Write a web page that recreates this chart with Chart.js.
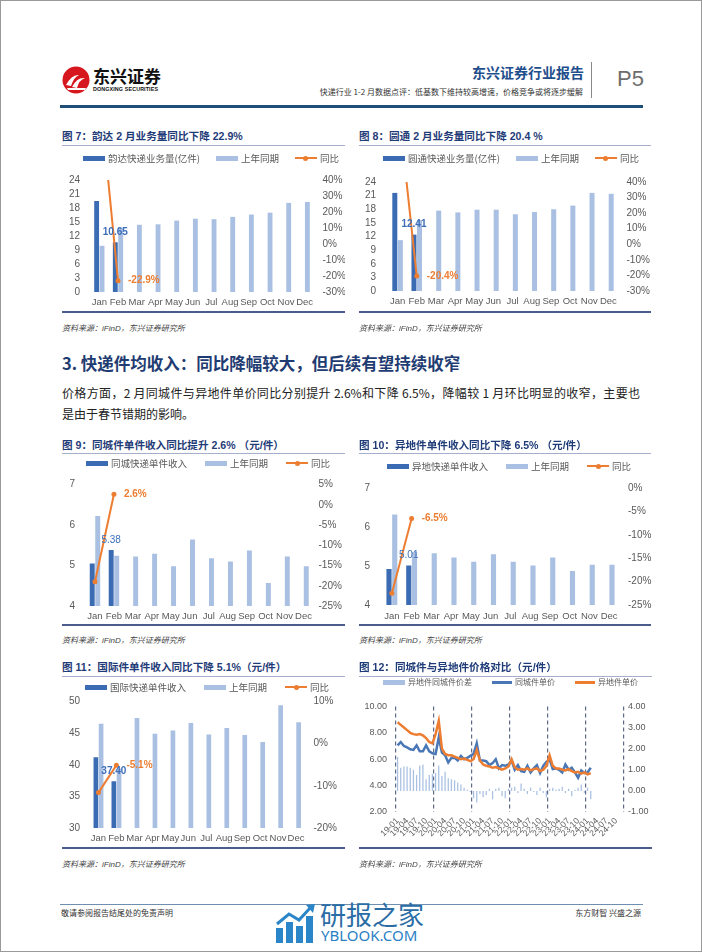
<!DOCTYPE html>
<html lang="zh-CN">
<head>
<meta charset="utf-8">
<title>快递行业 1-2 月数据点评</title>
<script src="https://cdn.jsdelivr.net/npm/chart.js@4.4.1/dist/chart.umd.min.js"></script>
<style>
  html, body { margin: 0; padding: 0; }
  body { width: 702px; height: 952px; position: relative; background: #fff; overflow: hidden;
         font-family: "Liberation Sans", "Noto Sans CJK SC", sans-serif; color: #333; }
  .frame { position: absolute; left: 0; top: 0; width: 702px; height: 952px; box-sizing: border-box;
           border: 1px solid #9a9a9a; pointer-events: none; }
  .abs { position: absolute; white-space: nowrap; }
  .ctitle { font-size: 10.6px; font-weight: bold; color: #1f3c78; line-height: 13px; }
  .tline { position: absolute; height: 1px; background: #a7adcc; }
  .bline { position: absolute; height: 2px; background: #4d5b8c; }
  .src { font-size: 8px; font-style: italic; color: #444; line-height: 10px; }
  .legend { position: absolute; display: flex; align-items: center; font-size: 9.5px; color: #595959;
            line-height: 12px; font-family: "Noto Sans CJK SC", sans-serif; white-space: nowrap; }
  .lg { display: flex; align-items: center; }
  .ic { display: inline-block; width: 22px; height: 5px; margin-right: 3px; position: relative; }
  .ic.line { height: 2px; }
  .ic.thick { height: 3px; width: 20px; }
  .ic.line i { position: absolute; left: 8.5px; top: -1.5px; width: 5px; height: 5px; border-radius: 50%; background: inherit; }
  canvas { position: absolute; }
</style>
</head>
<body>
<div id="page"></div>

<!-- header -->
<svg class="abs" style="left:62px;top:66px" width="28" height="28" viewBox="0 0 28 28">
  <circle cx="14" cy="14" r="13.5" fill="#d7171e"/>
  <path d="M4 19 Q10 8 17 9 Q12 11 9 20 Z" fill="#fff"/>
  <path d="M10 21 Q15 11 23 12 Q17 14 15 22 Z" fill="#fff"/>
  <path d="M5 22 L24 22 L23 24 L6 24 Z" fill="#fff"/>
</svg>
<div class="abs" style="left:93px;top:65px;font:bold 17px 'Noto Sans CJK SC';color:#111;line-height:21px">东兴证券</div>
<div class="abs" style="left:93px;top:86px;font:bold 5.4px 'Liberation Sans';color:#111;letter-spacing:0.1px">DONGXING SECURITIES</div>
<div class="abs" style="right:118px;top:63px;font:bold 14px 'Noto Sans CJK SC';color:#1f4e8c;line-height:18px">东兴证券行业报告</div>
<div class="abs" style="right:119px;top:87px;font:8px 'Noto Sans CJK SC';color:#333;line-height:10px">快递行业 1-2 月数据点评：低基数下维持较高增速，价格竞争或将逐步缓解</div>
<div class="abs" style="left:591px;top:62px;width:1px;height:36px;background:#8a8a8a"></div>
<div class="abs" style="left:617px;top:66px;font:22px 'Liberation Sans';color:#6e6e6e;line-height:26px">P5</div>
<div class="abs" style="left:60px;top:105px;width:583px;height:2.5px;background:#1f4e79"></div>

<!-- section text -->
<div class="abs" style="left:62px;top:352px;font:bold 16.5px 'Noto Sans CJK SC';color:#1f3c72;line-height:22px">3. 快递件均收入：同比降幅较大，但后续有望持续收窄</div>
<div class="abs" style="left:62px;top:385px;width:578px;font:12px 'Noto Sans CJK SC';color:#222;line-height:16px;white-space:normal;text-align:justify;text-align-last:justify">价格方面，2 月同城件与异地件单价同比分别提升 2.6%和下降 6.5%，降幅较 1 月环比明显的收窄，主要也</div>
<div class="abs" style="left:62px;top:406px;font:12px 'Noto Sans CJK SC';color:#222;line-height:16px">是由于春节错期的影响。</div>

<!-- footer -->
<div class="abs" style="left:60px;top:904px;width:583px;height:1px;background:#6f8fb0"></div>
<div class="abs" style="left:61px;top:908px;font:8px 'Noto Sans CJK SC';color:#333;line-height:10px">敬请参阅报告结尾处的免责声明</div>
<div class="abs" style="right:61px;top:908px;font:8px 'Noto Sans CJK SC';color:#333;line-height:10px">东方财智 兴盛之源</div>
<svg class="abs" style="left:275px;top:902px" width="42" height="42" viewBox="0 0 42 42">
  <rect x="1" y="26" width="7" height="15" fill="#2b86c9"/>
  <rect x="11" y="20" width="7" height="21" fill="#2b86c9"/>
  <rect x="21" y="24" width="7" height="17" fill="#2b86c9"/>
  <rect x="31" y="14" width="7" height="27" fill="#2b86c9"/>
  <path d="M2 22 L14 12 L24 18 L36 5" stroke="#2b86c9" stroke-width="3" fill="none"/>
  <path d="M31 3 L40 2 L38 11 Z" fill="#2b86c9"/>
</svg>
<div class="abs" style="left:320px;top:899px;font:26px 'Noto Sans CJK SC';color:#2a6da6;line-height:30px">研报之家</div>
<div class="abs" style="left:321px;top:927px;font:15px 'Noto Sans';color:#2b7fc4;line-height:16px">YBLOOK.COM</div>

<div class="frame"></div>

<script>
// ---------- data ----------
const months = ["Jan", "Feb", "Mar", "Apr", "May", "Jun", "Jul", "Aug", "Sep", "Oct", "Nov", "Dec"];

// 图7 韵达业务量(亿件)
const ydNames = ["韵达快递业务量(亿件)", "上年同期", "同比"];
const ydVolume = [19.5, 10.65, null, null, null, null, null, null, null, null, null, null];
const ydLastYear = [9.9, 13.8, 14.4, 14.5, 15.3, 15.7, 15.6, 16.1, 16.6, 17.0, 19.1, 19.3];
const ydYoy = [97.0, -22.9, null, null, null, null, null, null, null, null, null, null];

// 图8 圆通业务量(亿件)
const ytNames = ["圆通快递业务量(亿件)", "上年同期", "同比"];
const ytVolume = [21.6, 12.41, null, null, null, null, null, null, null, null, null, null];
const ytLastYear = [11.2, 15.6, 17.7, 17.3, 17.9, 17.9, 16.9, 17.4, 18.0, 18.8, 21.6, 21.4];
const ytYoy = [93.0, -20.4, null, null, null, null, null, null, null, null, null, null];

// 图9 同城件单件收入(元/件)
const tcNames = ["同城快递单件收入", "上年同期", "同比"];
const tcPrice = [5.05, 5.38, null, null, null, null, null, null, null, null, null, null];
const tcLastYear = [6.22, 5.24, 5.22, 5.29, 4.98, 5.64, 5.18, 5.10, 5.37, 4.57, 5.22, 4.98];
const tcYoy = [-19.0, 2.6, null, null, null, null, null, null, null, null, null, null];

// 图10 异地件单件收入(元/件)
const ydiNames = ["异地快递单件收入", "上年同期", "同比"];
const ydiPrice = [4.92, 5.01, null, null, null, null, null, null, null, null, null, null];
const ydiLastYear = [6.32, 5.36, 5.33, 5.22, 5.11, 5.30, 5.11, 5.01, 5.22, 4.87, 5.03, 5.03];
const ydiYoy = [-22.5, -6.5, null, null, null, null, null, null, null, null, null, null];

// 图11 国际件单件收入(元/件)
const gjNames = ["国际快递单件收入", "上年同期", "同比"];
const gjPrice = [41.2, 37.40, null, null, null, null, null, null, null, null, null, null];
const gjLastYear = [46.5, 39.4, 47.4, 44.9, 45.4, 46.6, 44.8, 45.8, 44.7, 43.6, 49.4, 46.7];
const gjYoy = [-11.6, -5.1, null, null, null, null, null, null, null, null, null, null];

// 图12 同城件与异地件价格对比(元/件)
const cmpNames = ["异地件同城件价差", "同城件单价", "异地件单价"];
const cmpMonths = [
  "19-01", "19-02", "19-03", "19-04", "19-05", "19-06", "19-07", "19-08", "19-09", "19-10", "19-11", "19-12",
  "20-01", "20-02", "20-03", "20-04", "20-05", "20-06", "20-07", "20-08", "20-09", "20-10", "20-11", "20-12",
  "21-01", "21-02", "21-03", "21-04", "21-05", "21-06", "21-07", "21-08", "21-09", "21-10", "21-11", "21-12",
  "22-01", "22-02", "22-03", "22-04", "22-05", "22-06", "22-07", "22-08", "22-09", "22-10", "22-11", "22-12",
  "23-01", "23-02", "23-03", "23-04", "23-05", "23-06", "23-07", "23-08", "23-09", "23-10", "23-11", "23-12",
  "24-01", "24-02", "24-03", "24-04", "24-05", "24-06", "24-07", "24-08", "24-09", "24-10", "24-11", "24-12"
];
const cmpGap = [
  1.6, 1.1, 1.15, 1.15, 1.1, 1.0, 0.75, 1.2, 1.25, 0.55, 0.75, 0.8,
  0.85, 1.2, 0.7, 0.9, 0.6, 0.55, 0.5, 0.4, 0.3, 0.15, 0.05, -0.05,
  -0.35, -0.55, -0.15, -0.3, -0.2, 0.1, -0.4, 0.1, 0.15, -0.25, -0.35, 0.1,
  0.15, 0.2, -0.1, 0.35, 0.1, -0.15, 0.15, -0.05, -0.2, 0.15, -0.1, -0.3,
  0.1, 0.15, 0.05, 0.1, 0.2, -0.1, 0.1, -0.25, 0.05, 0.15, 0.3, -0.1,
  0.15, -0.4
];
const cmpLocal = [
  7.05, 7.3, 7.0, 6.9, 6.75, 6.7, 7.05, 6.6, 6.6, 7.05, 6.6, 6.45,
  6.4, 7.65, 6.5, 6.3, 5.75, 6.1, 6.1, 5.9, 6.25, 6.0, 6.1, 6.25,
  6.4, 7.2, 5.9, 5.9, 5.85, 5.55, 5.7, 6.0, 5.3, 5.55, 5.5, 5.6,
  5.9, 5.2, 5.55, 5.1, 5.05, 5.5, 5.0, 5.3, 5.55, 4.95, 5.5, 5.8,
  6.0, 5.25, 5.3, 5.2, 5.0, 5.6, 5.2, 5.35, 5.0, 4.6, 5.15, 4.95,
  5.0, 5.35
];
const cmpRemote = [
  8.8, 8.6, 8.4, 8.2, 8.0, 7.9, 7.85, 7.9, 7.8, 7.6, 7.3, 7.2,
  7.9, 8.9, 6.8, 6.4, 6.3, 6.3, 6.2, 6.1, 6.0, 6.05, 5.95, 5.85,
  6.0, 6.7, 5.9, 5.6, 5.5, 5.45, 5.35, 5.4, 5.3, 5.2, 5.3, 5.45,
  6.0, 5.4, 5.2, 5.25, 5.2, 5.3, 5.15, 5.25, 5.3, 5.1, 5.2, 5.5,
  6.3, 5.5, 5.3, 5.3, 5.2, 5.15, 5.25, 5.1, 5.0, 5.05, 4.9, 5.0,
  4.85, 4.95
];

// ---------- styling ----------
const ORANGE = "#ed7d31";
const DARK = "#3b6cb3";
const LIGHT = "#a9c0e2";
const BLUE = "#4a78b6";
const AXIS = "#595959";
Chart.defaults.font.family = '"Liberation Sans", Arial, sans-serif';
Chart.defaults.color = AXIS;

// draws the value tags next to single bars / points
const pointLabels = {
  id: "pointLabels",
  afterDatasetsDraw(chart, args, opts) {
    const ctx = chart.ctx;
    (opts.items || []).forEach((it) => {
      const el = chart.getDatasetMeta(it.ds).data[it.idx];
      if (!el) return;
      ctx.save();
      ctx.font = it.font;
      ctx.fillStyle = it.color;
      ctx.textAlign = it.align;
      ctx.textBaseline = "middle";
      ctx.fillText(it.text, el.x + it.dx, el.y + it.dy);
      ctx.restore();
    });
  },
};

const page = document.getElementById("page");
function el(tag, cls, style, text) {
  const e = document.createElement(tag);
  if (cls) e.className = cls;
  Object.assign(e.style, style);
  if (text) e.textContent = text;
  page.appendChild(e);
  return e;
}

function buildLegend(b, names, icons) {
  const lg = el("div", "legend", { left: b.lgLeft + "px", top: b.lgY - 6 + "px", gap: b.lgGap + "px", fontSize: b.lgFont + "px" });
  names.forEach((n, i) => {
    const item = document.createElement("span");
    item.className = "lg";
    const ic = document.createElement("span");
    ic.className = "ic " + icons[i].cls;
    ic.style.background = icons[i].color;
    if (icons[i].dot) ic.appendChild(document.createElement("i"));
    item.appendChild(ic);
    item.appendChild(document.createTextNode(n));
    lg.appendChild(item);
  });
}

function buildFrame(b) {
  el("div", "abs ctitle", { left: b.left + "px", top: b.titleY - 6.5 + "px" }, b.title);
  el("div", "tline", { left: b.left + "px", top: b.tlineY + "px", width: b.width + "px" });
  el("div", "bline", { left: b.left + "px", top: b.blineY + "px", width: b.width + "px" });
  el("div", "abs src", { left: b.left + "px", top: b.srcY - 5 + "px" }, "资料来源：iFinD，东兴证券研究所");
  const cv = el("canvas", "", { left: b.left + "px", top: b.plotTop - b.padTop + "px" });
  cv.width = b.width;
  cv.height = b.plotBottom - (b.plotTop - b.padTop) + b.xH;
  return cv;
}

const noGrid = { display: false, drawTicks: false };

function barLineChart(b, names, cur, prev, yoy) {
  const cv = buildFrame(b);
  buildLegend(b, names, [
    { cls: "", color: DARK },
    { cls: "", color: LIGHT },
    { cls: "line", color: ORANGE, dot: true },
  ]);
  const barOpts = { categoryPercentage: 0.58, barPercentage: 0.9 };
  return new Chart(cv, {
    type: "bar",
    data: {
      labels: months,
      datasets: [
        { type: "line", label: names[2], data: yoy, yAxisID: "y1", order: 0,
          borderColor: ORANGE, backgroundColor: ORANGE, borderWidth: 2,
          pointRadius: 2.5, pointBackgroundColor: ORANGE, pointBorderWidth: 0, tension: 0 },
        { type: "bar", label: names[0], data: cur, yAxisID: "y", order: 1, backgroundColor: DARK, ...barOpts },
        { type: "bar", label: names[1], data: prev, yAxisID: "y", order: 2, backgroundColor: LIGHT, ...barOpts },
      ],
    },
    options: {
      responsive: false,
      animation: false,
      events: [],
      layout: { padding: { top: b.padTop, left: 0, right: 0, bottom: 0 } },
      plugins: {
        legend: { display: false },
        tooltip: { enabled: false },
        pointLabels: {
          items: [
            { ds: 1, idx: 1, text: cur[1].toFixed(2), color: "#3e6fb8", font: (b.valBold ? "bold " : "") + "10px 'Liberation Sans'", align: "center", dx: 0, dy: -10 },
            { ds: 0, idx: 1, text: yoy[1].toFixed(1) + "%", color: ORANGE, font: "bold 10px 'Liberation Sans'", align: "left", dx: 10, dy: 0 },
          ],
        },
      },
      scales: {
        x: {
          grid: noGrid, border: { display: false },
          ticks: { font: { size: 9.5 }, autoSkip: false, maxRotation: 0, minRotation: 0, padding: b.xPad },
          afterFit: (s) => { s.height = b.xH; },
        },
        y: {
          position: "left", min: b.yMin, max: b.yMax,
          grid: noGrid, border: { display: false },
          ticks: { stepSize: b.yStep, autoSkip: false, font: { size: 10 }, padding: b.yPad },
          afterFit: (s) => { s.width = b.yW; },
        },
        y1: {
          position: "right", min: b.y1Min, max: b.y1Max,
          grid: noGrid, border: { display: false },
          ticks: { stepSize: b.y1Step, autoSkip: false, font: { size: 10 }, padding: b.y1Pad, callback: (v) => v + "%" },
          afterFit: (s) => { s.width = b.y1W; },
        },
      },
    },
    plugins: [pointLabels],
  });
}

// ---------- charts ----------
const topRow = { titleY: 136, tlineY: 145, lgY: 158, blineY: 311, srcY: 329, width: 283, lgGap: 16, lgFont: 9.5, padTop: 8 };
const midRow = { titleY: 445, tlineY: 453, blineY: 624, srcY: 641, width: 283, lgGap: 18, lgFont: 9.5, padTop: 8 };
const lowRow = { titleY: 667, tlineY: 676, blineY: 847, srcY: 865, width: 283, lgGap: 18, lgFont: 9.5, padTop: 8 };

barLineChart({ ...topRow, left: 62, title: "图 7：韵达 2 月业务量同比下降 22.9%", lgLeft: 83,
  plotTop: 172, plotBottom: 292, xH: 18, xPad: 5, yW: 28, yPad: 10, y1W: 31, y1Pad: 8.5, valBold: true,
  yMin: 0, yMax: 24, yStep: 3, y1Min: -30, y1Max: 40, y1Step: 10 }, ydNames, ydVolume, ydLastYear, ydYoy);

barLineChart({ ...topRow, left: 359, width: 292, title: "图 8：圆通 2 月业务量同比下降 20.4 %", lgLeft: 383,
  plotTop: 172, plotBottom: 291, xH: 19, xPad: 5, yW: 29, yPad: 12, y1W: 33, y1Pad: 8.5, valBold: true,
  yMin: 0, yMax: 24, yStep: 3, y1Min: -30, y1Max: 40, y1Step: 10 }, ytNames, ytVolume, ytLastYear, ytYoy);

barLineChart({ ...midRow, left: 62, title: "图 9：同城件单件收入同比提升 2.6% （元/件）", lgLeft: 86, lgY: 463,
  plotTop: 476, plotBottom: 606, xH: 17, xPad: 5, yW: 23.5, yPad: 10.5, y1W: 32, y1Pad: 5.5, valBold: false,
  yMin: 4, yMax: 7, yStep: 1, y1Min: -25, y1Max: 5, y1Step: 5 }, tcNames, tcPrice, tcLastYear, tcYoy);

barLineChart({ ...midRow, left: 359, width: 292, title: "图 10：异地件单件收入同比下降 6.5% （元/件）", lgLeft: 387, lgY: 466,
  plotTop: 478, plotBottom: 607, xH: 16, xPad: 6, yW: 23, yPad: 12, y1W: 32, y1Pad: 9, valBold: false,
  yMin: 4, yMax: 7, yStep: 1, y1Min: -25, y1Max: 0, y1Step: 5 }, ydiNames, ydiPrice, ydiLastYear, ydiYoy);

barLineChart({ ...lowRow, left: 62, title: "图 11：国际件单件收入同比下降 5.1%（元/件）", lgLeft: 85, lgY: 687,
  plotTop: 694, plotBottom: 828, xH: 18, xPad: 5, yW: 27.5, yPad: 9.5, y1W: 40, y1Pad: 8.5, valBold: true,
  yMin: 30, yMax: 50, yStep: 5, y1Min: -20, y1Max: 10, y1Step: 10 }, gjNames, gjPrice, gjLastYear, gjYoy);

// 图12
(function () {
  const b = { ...lowRow, left: 359, width: 293, title: "图 12：同城件与异地件价格对比（元/件）", lgLeft: 383, lgY: 682,
    lgGap: 20, lgFont: 8, plotTop: 699, plotBottom: 812, padTop: 7, xH: 33 };
  const cv = buildFrame(b);
  buildLegend(b, cmpNames, [
    { cls: "", color: LIGHT },
    { cls: "thick", color: BLUE },
    { cls: "thick", color: ORANGE },
  ]);
  new Chart(cv, {
    type: "bar",
    data: {
      labels: cmpMonths,
      datasets: [
        { type: "line", label: cmpNames[2], data: cmpRemote, yAxisID: "y", order: 0,
          borderColor: ORANGE, borderWidth: 2.5, pointRadius: 0, tension: 0 },
        { type: "line", label: cmpNames[1], data: cmpLocal, yAxisID: "y", order: 1,
          borderColor: BLUE, borderWidth: 2.5, pointRadius: 0, tension: 0 },
        { type: "bar", label: cmpNames[0], data: cmpGap, yAxisID: "y1", order: 2,
          backgroundColor: LIGHT, categoryPercentage: 1, barPercentage: 0.4 },
      ],
    },
    options: {
      responsive: false,
      animation: false,
      events: [],
      layout: { padding: { top: b.padTop, left: 0, right: 0, bottom: 0 } },
      plugins: { legend: { display: false }, tooltip: { enabled: false } },
      scales: {
        x: {
          offset: true,
          grid: {
            offset: true, drawTicks: false, lineWidth: 1.2,
            color: (c) => (c.index === undefined || c.index % 12 === 0 ? "#5d6a88" : "rgba(0,0,0,0)"),
          },
          border: { display: false, dash: [4, 3] },
          ticks: {
            font: { size: 8.5 }, autoSkip: false, minRotation: 45, maxRotation: 45, padding: 4,
            callback: function (v, i) { return i % 3 === 0 ? this.getLabelForValue(v) : ""; },
          },
          afterFit: (s) => { s.height = b.xH; },
        },
        y: {
          position: "left", min: 2, max: 10,
          grid: noGrid, border: { display: false },
          ticks: { stepSize: 2, autoSkip: false, font: { size: 9 }, padding: 9, callback: (v) => v.toFixed(2) },
          afterFit: (s) => { s.width = 37; },
        },
        y1: {
          position: "right", min: -1, max: 4,
          grid: noGrid, border: { display: false },
          ticks: { stepSize: 1, autoSkip: false, font: { size: 9 }, padding: 4, callback: (v) => v.toFixed(2) },
          afterFit: (s) => { s.width = 28; },
        },
      },
    },
  });
})();
</script>
</body>
</html>
